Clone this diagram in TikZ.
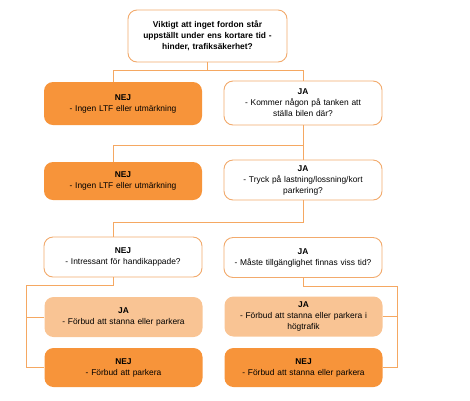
\documentclass[tikz,border=0pt]{standalone}
\usepackage{fontspec}
\setmainfont{Liberation Sans}
\definecolor{strong}{RGB}{247,148,58}
\definecolor{pale}{RGB}{249,196,148}
\definecolor{rim}{RGB}{242,170,108}
\definecolor{wire}{RGB}{245,168,98}
\tikzset{
  box/.style={rounded corners=9pt,minimum width=158pt,minimum height=40pt,
    text width=152pt,align=center,inner sep=1pt},
  askbox/.style={box,draw=rim,line width=0.9pt,fill=white},
  nobox/.style={box,fill=strong},
  yesbox/.style={box,fill=pale},
  link/.style={draw=wire,line width=0.9pt}
}
\begin{document}
\begin{tikzpicture}[x=1pt,y=-1pt]
  \fontsize{8.4}{11}\selectfont % affects text nodes in this picture
  \useasboundingbox (0,0) rectangle (470,400) ;
  % question at the top
  \node[askbox,minimum width=159pt,minimum height=52pt] (q0) at (207.5,36)
  {\bfseries Viktigt att inget fordon står\\ uppställt under ens kortare
    tid -\\ hinder, trafiksäkerhet?} ;
  % second row
  \node[nobox,minimum height=43pt] (n1) at (123,103.5) {\bfseries NEJ\\
    \mdseries - Ingen LTF eller utmärkning} ; \node[askbox,minimum
  height=44pt] (a1) at (303,103) {\bfseries JA\\ \mdseries - Kommer någon
    på tanken att\\ ställa bilen där?} ;
  % third row
  \node[nobox,minimum height=38pt] (n2) at (123,181) {\bfseries NEJ\\
    \mdseries - Ingen LTF eller utmärkning} ; \node[askbox] (a2) at
  (303,180) {\bfseries JA\\ \mdseries - Tryck på lastning/lossning/kort\\
    parkering?} ;
  % fourth row
  \node[askbox] (n3) at (123,257) {\bfseries NEJ\\ \mdseries - Intressant
    för handikappade?} ; \node[askbox] (a3) at (303,257.5) {\bfseries
    JA\\ \mdseries - Måste tillgänglighet finnas viss tid?} ;
  % answers
  \node[yesbox] (n4) at (123.5,317) {\bfseries JA\\ \mdseries - Förbud att
    stanna eller parkera} ; \node[nobox,minimum height=39pt] (n5) at
  (123.5,367.5) {\bfseries NEJ\\ \mdseries - Förbud att parkera} ;
  \node[yesbox] (a4) at (303.5,316.5) {\bfseries JA\\ \mdseries - Förbud
    att stanna eller parkera i\\ högtrafik} ; \node[nobox,minimum
  height=39pt] (a5) at (303.5,367.5) {\bfseries NEJ\\ \mdseries - Förbud
    att stanna eller parkera} ;
  % connectors
  \draw[link] (q0.south) -- +(0,8) -| ([xshift=-10pt]n1.north) ;
  \draw[link] (q0.south) -- +(0,8) -| (a1.north) ; \draw[link]
  (a1.south) -- (a2.north) ; \draw[link] (a1.south) -- +(0,20) -|
  ([xshift=-10pt]n2.north) ; \draw[link] (a2.south) -- +(0,22) -|
  ([xshift=-10pt]n3.north) ;
  % left and right bus lines
  \draw[link] ([xshift=-10pt]n3.south) -- +(0,8) -|
  ([xshift=-18pt]n5.west) -- (n5.west) ; \draw[link] (n4.west) --
  +(-18,0) ; \draw[link] (a3.south) -- +(0,8) -| ([xshift=15pt]a5.east)
  -- (a5.east) ; \draw[link] (a4.east) -- +(15,0) ;
\end{tikzpicture}
\end{document}
